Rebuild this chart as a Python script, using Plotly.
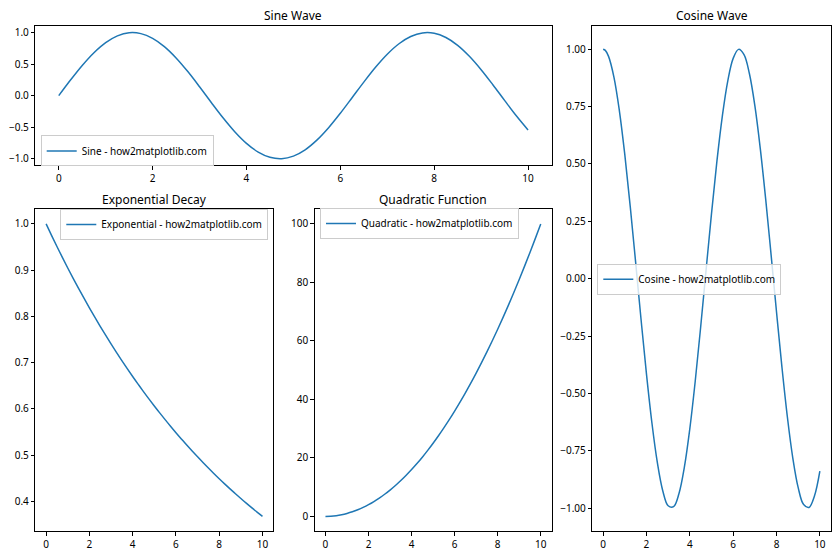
import plotly.graph_objects as go

x_vals = [0.0, 0.25, 0.5, 0.75, 1.0, 1.25, 1.5, 1.75, 2.0, 2.25, 2.5, 2.75, 3.0, 3.25, 3.5, 3.75,
          4.0, 4.25, 4.5, 4.75, 5.0, 5.25, 5.5, 5.75, 6.0, 6.25, 6.5, 6.75, 7.0, 7.25, 7.5, 7.75,
          8.0, 8.25, 8.5, 8.75, 9.0, 9.25, 9.5, 9.75, 10.0]

cos_x_vals = [0.0, 0.1, 0.25, 0.5, 0.75, 1.0, 1.25, 1.5, 1.75, 2.0, 2.25, 2.5, 2.75, 3.0, 3.25, 3.5,
              3.75, 4.0, 4.25, 4.5, 4.75, 5.0, 5.25, 5.5, 5.75, 6.0, 6.25, 6.5, 6.75, 7.0, 7.25, 7.5,
              7.75, 8.0, 8.25, 8.5, 8.75, 9.0, 9.25, 9.5, 9.75, 10.0]

sine_vals = [0.0, 0.2474, 0.4794, 0.6816, 0.8415, 0.9490, 0.9975, 0.9840, 0.9093, 0.7781, 0.5985,
             0.3817, 0.1411, -0.1082, -0.3508, -0.5716, -0.7568, -0.8950, -0.9775, -0.9993, -0.9589,
             -0.8589, -0.7055, -0.5083, -0.2794, -0.0332, 0.2151, 0.4500, 0.6570, 0.8233, 0.9380,
             0.9945, 0.9894, 0.9226, 0.7985, 0.6247, 0.4121, 0.1739, -0.0751, -0.3195, -0.5440]

cosine_vals = [1.0, 0.9950, 0.9689, 0.8776, 0.7317, 0.5403, 0.3153, 0.0707, -0.1782, -0.4161, -0.6282,
               -0.8011, -0.9243, -0.9900, -0.9941, -0.9365, -0.8206, -0.6536, -0.4461, -0.2108,
               0.0376, 0.2837, 0.5120, 0.7087, 0.8612, 0.9602, 0.9994, 0.9766, 0.8930, 0.7539,
               0.5679, 0.3466, 0.1038, -0.1455, -0.3858, -0.6020, -0.7808, -0.9111, -0.9848,
               -0.9972, -0.9476, -0.8391]

exp_vals = [1.0, 0.9753, 0.9512, 0.9277, 0.9048, 0.8825, 0.8607, 0.8395, 0.8187, 0.7985, 0.7788,
            0.7596, 0.7408, 0.7225, 0.7047, 0.6873, 0.6703, 0.6538, 0.6376, 0.6219, 0.6065, 0.5916,
            0.5770, 0.5627, 0.5488, 0.5353, 0.5220, 0.5092, 0.4966, 0.4843, 0.4724, 0.4607, 0.4493,
            0.4382, 0.4274, 0.4169, 0.4066, 0.3965, 0.3867, 0.3772, 0.3679]

quad_vals = [0.0, 0.0625, 0.25, 0.5625, 1.0, 1.5625, 2.25, 3.0625, 4.0, 5.0625, 6.25, 7.5625, 9.0,
             10.5625, 12.25, 14.0625, 16.0, 18.0625, 20.25, 22.5625, 25.0, 27.5625, 30.25, 33.0625,
             36.0, 39.0625, 42.25, 45.5625, 49.0, 52.5625, 56.25, 60.0625, 64.0, 68.0625, 72.25,
             76.5625, 81.0, 85.5625, 90.25, 95.0625, 100.0]

titles = ["Sine Wave", "Cosine Wave", "Exponential Decay", "Quadratic Function"]
labels = ["Sine - how2matplotlib.com", "Cosine - how2matplotlib.com",
          "Exponential - how2matplotlib.com", "Quadratic - how2matplotlib.com"]

W, H = 840, 560
BLUE = "#1f77b4"
FONT = "Noto Sans"

fig = go.Figure()

series = [(x_vals, sine_vals), (cos_x_vals, cosine_vals), (x_vals, exp_vals), (x_vals, quad_vals)]
axes = [("x", "y"), ("x2", "y2"), ("x3", "y3"), ("x4", "y4")]
legends = ["legend", "legend2", "legend3", "legend4"]
for (xs, s), (xa, ya), lab, lg in zip(series, axes, labels, legends):
    fig.add_trace(go.Scatter(x=xs, y=s, mode="lines", name=lab, xaxis=xa, yaxis=ya,
                             legend=lg, showlegend=True,
                             line=dict(color=BLUE, width=1.5, shape="spline")))

def px_dom(a, b, total):
    return [a / total, b / total]

def py_dom(top, bottom):
    return [1 - bottom / H, 1 - top / H]

common = dict(showline=True, mirror=True, linecolor="black", linewidth=1, ticks="outside",
              ticklen=3.5, tickwidth=1, tickcolor="black", showgrid=False, zeroline=False,
              tickfont=dict(family=FONT, size=10, color="black"))

xticks = dict(tickmode="array", tickvals=[0, 2, 4, 6, 8, 10], ticktext=["0", "2", "4", "6", "8", "10"])

fig.update_layout(
    width=W, height=H, margin=dict(l=0, r=0, t=0, b=0), showlegend=True,
    paper_bgcolor="white", plot_bgcolor="white",
    font=dict(family=FONT, size=10, color="black"),
    xaxis=dict(domain=px_dom(35.3, 551.5, W), range=[-0.5, 10.5], anchor="y", **xticks, **common),
    yaxis=dict(domain=py_dom(26.3, 165), range=[-1.1, 1.1], anchor="x",
               tickvals=[-1.0, -0.5, 0.0, 0.5, 1.0], tickformat=".1f", **common),
    xaxis2=dict(domain=px_dom(592.3, 830.7, W), range=[-0.5, 10.5], anchor="y2", **xticks, **common),
    yaxis2=dict(domain=py_dom(26.3, 531), range=[-1.1, 1.1], anchor="x2",
                tickvals=[-1.0, -0.75, -0.5, -0.25, 0.0, 0.25, 0.5, 0.75, 1.0], tickformat=".2f", **common),
    xaxis3=dict(domain=px_dom(35.3, 273.3, W), range=[-0.5, 10.5], anchor="y3", **xticks, **common),
    yaxis3=dict(domain=py_dom(209.3, 531), range=[0.3363, 1.0316], anchor="x3",
                tickvals=[0.4, 0.5, 0.6, 0.7, 0.8, 0.9, 1.0], tickformat=".1f", **common),
    xaxis4=dict(domain=px_dom(314.7, 551.5, W), range=[-0.5, 10.5], anchor="y4", **xticks, **common),
    yaxis4=dict(domain=py_dom(209.3, 531), range=[-5, 105], anchor="x4",
                tickvals=[0, 20, 40, 60, 80, 100], **common),
)

leg_common = dict(bgcolor="rgba(255,255,255,0.8)", bordercolor="#cccccc", borderwidth=1,
                  font=dict(family=FONT, size=10, color="black"), itemwidth=30,
                  tracegroupgap=0, visible=True)
fig.update_layout(
    legend=dict(x=40.7 / W, y=1 - 150.9 / H, xanchor="left", yanchor="middle", **leg_common),
    legend2=dict(x=597.3 / W, y=1 - 279.3 / H, xanchor="left", yanchor="middle", **leg_common),
    legend3=dict(x=268.3 / W, y=1 - 224.5 / H, xanchor="right", yanchor="middle", **leg_common),
    legend4=dict(x=320 / W, y=1 - 223.5 / H, xanchor="left", yanchor="middle", **leg_common),
)

title_pos = [((35.3 + 551.5) / 2, 15.5), ((592.3 + 830.7) / 2, 15.5),
             ((35.3 + 273.3) / 2, 199), ((314.7 + 551.5) / 2, 199)]
for t, (cx, cy) in zip(titles, title_pos):
    fig.add_annotation(text=t, x=cx / W, y=1 - cy / H, xref="paper", yref="paper",
                       xanchor="center", yanchor="middle", showarrow=False,
                       font=dict(family=FONT, size=12, color="black"))

fig.write_html("out.html")
